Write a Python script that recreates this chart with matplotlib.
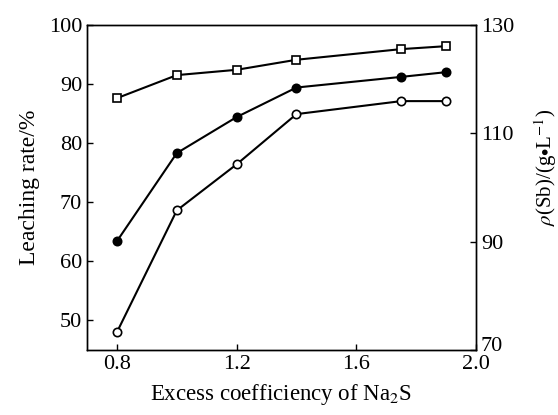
import matplotlib
matplotlib.use('Agg')
import matplotlib.pyplot as plt
import matplotlib.transforms as mtransforms

# font
matplotlib.rcParams['font.family'] = 'Liberation Serif'
matplotlib.rcParams['mathtext.fontset'] = 'stix'
matplotlib.rcParams['font.size'] = 16

# data
excess = [0.8, 1.0, 1.2, 1.4, 1.75, 1.9]
rate_square = [87.6, 91.5, 92.4, 94.1, 95.9, 96.4]
rate_filled = [63.4, 78.3, 84.4, 89.4, 91.2, 92.0]
rate_open = [48.0, 68.6, 76.4, 84.9, 87.1, 87.1]

x_ticks = [0.8, 1.2, 1.6, 2.0]
left_ticks = [50, 60, 70, 80, 90, 100]
right_ticks = [70, 90, 110, 130]

fig = plt.figure(figsize=(5.58, 4.15), dpi=100)
ax = fig.add_axes([0.156, 0.157, 0.697, 0.783])

ax.plot(excess, rate_square, '-s', color='black', lw=1.5, ms=6,
        mfc='white', mec='black', mew=1.2)
ax.plot(excess, rate_filled, '-o', color='black', lw=1.5, ms=6,
        mfc='black', mec='black', mew=1.2)
ax.plot(excess, rate_open, '-o', color='black', lw=1.5, ms=6,
        mfc='white', mec='black', mew=1.2)

ax.set_xlim(0.7, 2.0)
ax.set_ylim(45, 100)
ax.set_xticks(x_ticks)
ax.set_xticklabels(['0.8', '1.2', '1.6', '2.0'])
ax.set_yticks(left_ticks)
ax.tick_params(direction='in', length=4, labelsize=16, width=1)
ax.set_xlabel('Excess coefficiency of Na$_2$S', fontsize=16.5, labelpad=6)
ax.set_ylabel('Leaching rate/%', fontsize=17, labelpad=6)

ax2 = ax.twinx()
ax2.set_ylim(70, 130)
ax2.set_yticks(right_ticks)
ax2.tick_params(direction='in', length=4, labelsize=16, width=1)
ax2.set_ylabel(r'$\rho$(Sb)/(g$\bullet$L$^{-1}$)', fontsize=15)
ax2.yaxis.set_label_coords(1.145, 0.56)

# lift the bottom right label a little, as in the original
lbl = ax2.get_yticklabels()[0]
lbl.set_transform(lbl.get_transform() +
                  mtransforms.ScaledTranslation(0, 4 / 72, fig.dpi_scale_trans))

for a in (ax, ax2):
    for s in a.spines.values():
        s.set_linewidth(1.0)

fig.savefig('out.png', dpi=100)
